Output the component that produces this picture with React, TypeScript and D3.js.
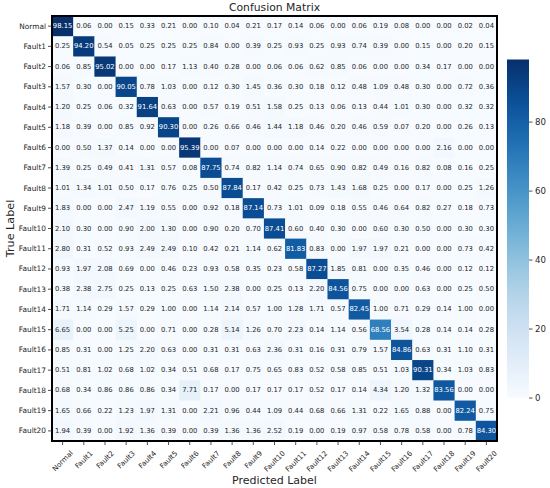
import React from "react";
import * as d3 from "d3";

const categories = [
  "Normal", "Fault1", "Fault2", "Fault3", "Fault4", "Fault5", "Fault6", "Fault7", "Fault8", "Fault9", "Fault10",
  "Fault11", "Fault12", "Fault13", "Fault14", "Fault15", "Fault16", "Fault17", "Fault18", "Fault19", "Fault20",
];

const rowNormal = [98.15, 0.06, 0.0, 0.15, 0.33, 0.21, 0.0, 0.1, 0.04, 0.21, 0.17, 0.14, 0.06, 0.0, 0.06, 0.19, 0.08, 0.0, 0.0, 0.02, 0.04];
const rowFault1 = [0.25, 94.2, 0.54, 0.05, 0.25, 0.25, 0.25, 0.84, 0.0, 0.39, 0.25, 0.93, 0.25, 0.93, 0.74, 0.39, 0.0, 0.15, 0.0, 0.2, 0.15];
const rowFault2 = [0.06, 0.85, 95.02, 0.0, 0.0, 0.17, 1.13, 0.4, 0.28, 0.0, 0.06, 0.06, 0.62, 0.85, 0.06, 0.0, 0.0, 0.34, 0.17, 0.0, 0.0];
const rowFault3 = [1.57, 0.3, 0.0, 90.05, 0.78, 1.03, 0.0, 0.12, 0.3, 1.45, 0.36, 0.3, 0.18, 0.12, 0.48, 1.09, 0.48, 0.3, 0.0, 0.72, 0.36];
const rowFault4 = [1.2, 0.25, 0.06, 0.32, 91.64, 0.63, 0.0, 0.57, 0.19, 0.51, 1.58, 0.25, 0.13, 0.06, 0.13, 0.44, 1.01, 0.3, 0.0, 0.32, 0.32];
const rowFault5 = [1.18, 0.39, 0.0, 0.85, 0.92, 90.3, 0.0, 0.26, 0.66, 0.46, 1.44, 1.18, 0.46, 0.2, 0.46, 0.59, 0.07, 0.2, 0.0, 0.26, 0.13];
const rowFault6 = [0.0, 0.5, 1.37, 0.14, 0.0, 0.0, 95.39, 0.0, 0.07, 0.0, 0.0, 0.0, 0.14, 0.22, 0.0, 0.0, 0.0, 0.0, 2.16, 0.0, 0.0];
const rowFault7 = [1.39, 0.25, 0.49, 0.41, 1.31, 0.57, 0.08, 87.75, 0.74, 0.82, 1.14, 0.74, 0.65, 0.9, 0.82, 0.49, 0.16, 0.82, 0.08, 0.16, 0.25];
const rowFault8 = [1.01, 1.34, 1.01, 0.5, 0.17, 0.76, 0.25, 0.5, 87.84, 0.17, 0.42, 0.25, 0.73, 1.43, 1.68, 0.25, 0.0, 0.17, 0.0, 0.25, 1.26];
const rowFault9 = [1.83, 0.0, 0.0, 2.47, 1.19, 0.55, 0.0, 0.92, 0.18, 87.14, 0.73, 1.01, 0.09, 0.18, 0.55, 0.46, 0.64, 0.82, 0.27, 0.18, 0.73];
const rowFault10 = [2.1, 0.3, 0.0, 0.9, 2.0, 1.3, 0.0, 0.9, 0.2, 0.7, 87.41, 0.6, 0.4, 0.3, 0.0, 0.6, 0.3, 0.5, 0.0, 0.3, 0.3];
const rowFault11 = [2.8, 0.31, 0.52, 0.93, 2.49, 2.49, 0.1, 0.42, 0.21, 1.14, 0.62, 81.83, 0.83, 0.0, 1.97, 1.97, 0.21, 0.0, 0.0, 0.73, 0.42];
const rowFault12 = [0.93, 1.97, 2.08, 0.69, 0.0, 0.46, 0.23, 0.93, 0.58, 0.35, 0.23, 0.58, 87.27, 1.85, 0.81, 0.0, 0.35, 0.46, 0.0, 0.12, 0.12];
const rowFault13 = [0.38, 2.38, 2.75, 0.25, 0.13, 0.25, 0.63, 1.5, 2.38, 0.0, 0.25, 0.13, 2.2, 84.56, 0.75, 0.0, 0.0, 0.63, 0.0, 0.25, 0.5];
const rowFault14 = [1.71, 1.14, 0.29, 1.57, 0.29, 1.0, 0.0, 1.14, 2.14, 0.57, 1.0, 1.28, 1.71, 0.57, 82.45, 1.0, 0.71, 0.29, 0.14, 1.0, 0.0];
const rowFault15 = [6.65, 0.0, 0.0, 5.25, 0.0, 0.71, 0.0, 0.28, 5.14, 1.26, 0.7, 2.23, 0.14, 1.14, 0.56, 68.56, 3.54, 0.28, 0.14, 0.14, 0.28];
const rowFault16 = [0.85, 0.31, 0.0, 1.25, 2.2, 0.63, 0.0, 0.31, 0.31, 0.63, 2.36, 0.31, 0.16, 0.31, 0.79, 1.57, 84.86, 0.63, 0.31, 1.1, 0.31];
const rowFault17 = [0.51, 0.81, 1.02, 0.68, 1.02, 0.34, 0.51, 0.68, 0.17, 0.75, 0.65, 0.83, 0.52, 0.58, 0.85, 0.51, 1.03, 90.31, 0.34, 1.03, 0.83];
const rowFault18 = [0.68, 0.34, 0.86, 0.86, 0.86, 0.34, 7.71, 0.17, 0.0, 0.17, 0.17, 0.17, 0.52, 0.17, 0.14, 4.34, 1.2, 1.32, 83.56, 0.0, 0.0];
const rowFault19 = [1.65, 0.66, 0.22, 1.23, 1.97, 1.31, 0.0, 2.21, 0.96, 0.44, 1.09, 0.44, 0.68, 0.66, 1.31, 0.22, 1.65, 0.88, 0.0, 82.24, 0.75];
const rowFault20 = [1.94, 0.39, 0.0, 1.92, 1.36, 0.39, 0.0, 0.39, 1.36, 1.36, 2.52, 0.19, 0.0, 0.19, 0.97, 0.58, 0.78, 0.58, 0.0, 0.78, 84.3];

const matrix = [
  rowNormal, rowFault1, rowFault2, rowFault3, rowFault4, rowFault5, rowFault6, rowFault7, rowFault8, rowFault9, rowFault10,
  rowFault11, rowFault12, rowFault13, rowFault14, rowFault15, rowFault16, rowFault17, rowFault18, rowFault19, rowFault20,
];

const colorbarTicks = [0, 20, 40, 60, 80];

const W = 550;
const H = 488;
const FONT = "'DejaVu Sans', sans-serif";
const TEXT_DARK = "#262626";

function luminance(c: string): number {
  const rgb = d3.rgb(c);
  const lin = [rgb.r, rgb.g, rgb.b].map((v) => {
    const s = v / 255;
    return s <= 0.03928 ? s / 12.92 : Math.pow((s + 0.055) / 1.055, 2.4);
  });
  return 0.2126 * lin[0] + 0.7152 * lin[1] + 0.0722 * lin[2];
}

function approxWidth(s: string, size: number): number {
  let w = 0;
  for (const ch of s) {
    if (/[0-9]/.test(ch)) w += 0.636;
    else if (ch === "N") w += 0.748;
    else if (ch === "F") w += 0.575;
    else if (ch === "m") w += 0.974;
    else if (ch === "l") w += 0.278;
    else if (ch === "t") w += 0.392;
    else if (ch === "r") w += 0.411;
    else w += 0.62;
  }
  return w * size;
}

export default function App() {
  const left = 52;
  const right = 497;
  const top = 16;
  const bottom = 441;

  const vmax = d3.max(matrix.flat()) as number;
  const vmin = d3.min(matrix.flat()) as number;

  const x = d3.scaleBand<string>().domain(categories).range([left, right]);
  const y = d3.scaleBand<string>().domain(categories).range([top, bottom]);
  const color = d3.scaleSequential(d3.interpolateBlues).domain([vmin, vmax]);

  const cbX = 507;
  const cbW = 22;
  const cbY = d3.scaleLinear().domain([vmin, vmax]).range([398, 59.5]);
  const stops = d3.range(0, 1.0001, 0.05);

  const tickFs = 7.4;
  const cellFs = 6.8;
  const xFs = 7.1;

  return (
    <div style={{ position: "fixed", left: 0, top: 0 }}>
      <svg width={W} height={H} style={{ display: "block", background: "#fff" }} fontFamily={FONT}>
        <defs>
          <linearGradient id="cbgrad" x1="0" y1="1" x2="0" y2="0">
            {stops.map((t) => (
              <stop key={t} offset={`${t * 100}%`} stopColor={d3.interpolateBlues(t)} />
            ))}
          </linearGradient>
        </defs>

        <text x={(left + right) / 2} y={11} textAnchor="middle" fontSize={10.8} fill={TEXT_DARK}>
          Confusion Matrix
        </text>

        {matrix.map((row, i) =>
          row.map((v, j) => (
            <rect
              key={`r${i}-${j}`}
              x={x(categories[j])}
              y={y(categories[i])}
              width={x.bandwidth() + 0.5}
              height={y.bandwidth() + 0.5}
              fill={color(v)}
            />
          ))
        )}
        {matrix.map((row, i) =>
          row.map((v, j) => {
            const c = color(v);
            const tc = luminance(c) > 0.408 ? TEXT_DARK : "#ffffff";
            return (
              <text
                key={`t${i}-${j}`}
                x={(x(categories[j]) as number) + x.bandwidth() / 2}
                y={(y(categories[i]) as number) + y.bandwidth() / 2}
                textAnchor="middle"
                dominantBaseline="central"
                fontSize={cellFs}
                fill={tc}
              >
                {v.toFixed(2)}
              </text>
            );
          })
        )}

        <rect x={left} y={top} width={right - left} height={bottom - top} fill="none" stroke="#000" strokeWidth={2} />

        {categories.map((c) => {
          const cy = (y(c) as number) + y.bandwidth() / 2;
          return (
            <g key={`yl${c}`}>
              <line x1={left - 4} x2={left} y1={cy} y2={cy} stroke={TEXT_DARK} strokeWidth={0.8} />
              <text x={left - 6} y={cy} textAnchor="end" dominantBaseline="central" fontSize={tickFs} fill={TEXT_DARK}>
                {c}
              </text>
            </g>
          );
        })}

        {categories.map((c) => {
          const cx = (x(c) as number) + x.bandwidth() / 2;
          const w = approxWidth(c, xFs);
          const h = xFs * 1.1;
          const bbox = (w + h) / Math.SQRT2;
          const cy = bottom + 8 + bbox / 2;
          return (
            <g key={`xl${c}`}>
              <line x1={cx} x2={cx} y1={bottom} y2={bottom + 4} stroke={TEXT_DARK} strokeWidth={0.8} />
              <text
                transform={`translate(${cx},${cy}) rotate(-45)`}
                textAnchor="middle"
                dominantBaseline="central"
                fontSize={xFs}
                fill={TEXT_DARK}
              >
                {c}
              </text>
            </g>
          );
        })}

        <text
          transform={`translate(13.5,${(top + bottom) / 2}) rotate(-90)`}
          textAnchor="middle"
          fontSize={11.2}
          fill={TEXT_DARK}
        >
          True Label
        </text>
        <text x={(left + right) / 2} y={484} textAnchor="middle" fontSize={11} fill={TEXT_DARK}>
          Predicted Label
        </text>

        <rect x={cbX} y={cbY(vmax)} width={cbW} height={cbY(vmin) - cbY(vmax)} fill="url(#cbgrad)" />
        {colorbarTicks.map((t) => (
          <g key={`cb${t}`}>
            <line x1={cbX + cbW} x2={cbX + cbW + 3.5} y1={cbY(t)} y2={cbY(t)} stroke={TEXT_DARK} strokeWidth={0.8} />
            <text x={cbX + cbW + 6} y={cbY(t)} dominantBaseline="central" fontSize={8.6} fill={TEXT_DARK}>
              {t}
            </text>
          </g>
        ))}
      </svg>
    </div>
  );
}
